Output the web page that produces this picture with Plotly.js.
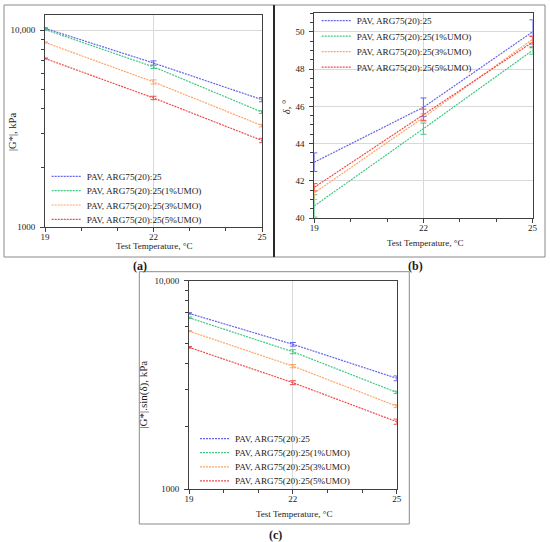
<!DOCTYPE html>
<html><head><meta charset="utf-8">
<script src="https://cdn.plot.ly/plotly-3.0.1.min.js"></script>
<style>html,body{margin:0;padding:0;background:#fff}#chart{width:550px;height:542px}</style>
</head><body><div id="chart"></div>
<script>
// ---- data ----
const temperatures = [19, 22, 25];
const seriesNames = ['PAV, ARG75(20):25', 'PAV, ARG75(20):25(1%UMO)', 'PAV, ARG75(20):25(3%UMO)', 'PAV, ARG75(20):25(5%UMO)'];

// (a) |G*|, kPa
const gStarBase = [10200, 6800, 4430];
const gStar1 = [10050, 6500, 3830];
const gStar3 = [8650, 5450, 3270];
const gStar5 = [7170, 4520, 2750];
const gStarBaseErr = [60, 170, 110];
const gStar1Err = [50, 120, 60];
const gStar3Err = [40, 130, 50];
const gStar5Err = [40, 90, 70];

// (b) delta, degrees
const deltaBase = [43.0, 45.95, 50.0];
const delta1 = [40.65, 44.8, 49.0];
const delta3 = [41.35, 45.4, 49.6];
const delta5 = [41.65, 45.55, 49.45];
const deltaBaseErr = [0.5, 0.5, 0.65];
const delta1Err = [0.6, 0.3, 0.2];
const delta3Err = [0.35, 0.2, 0.2];
const delta5Err = [0.2, 0.3, 0.3];

// (c) |G*|.sin(delta), kPa
const gSinBase = [6970, 4950, 3400];
const gSin1 = [6640, 4560, 2910];
const gSin3 = [5730, 3890, 2500];
const gSin5 = [4790, 3240, 2105];
const gSinBaseErr = [50, 100, 90];
const gSin1Err = [50, 100, 40];
const gSin3Err = [40, 70, 40];
const gSin5Err = [40, 70, 60];

// ---- tick labels ----
const xTickVals = [19, 22, 25];
const xTickText = ['19', '22', '25'];
const gTickVals = [1000, 10000];
const gTickText = ['1000', '10,000'];
const gMinorVals = [2000, 3000, 4000, 5000, 6000, 7000, 8000, 9000];
const deltaTickVals = [40, 42, 44, 46, 48, 50];
const deltaTickText = ['40', '42', '44', '46', '48', '50'];

// ---- styles ----
const seriesColors = ['#6464ee', '#40c983', '#ffa465', '#f24c4c'];
const W = 550, H = 542;
const px = v => v / W;
const py = v => 1 - v / H;
const FONT = '"Liberation Serif", "Times New Roman", serif';
const AX = '#404040';

const panels = [
  {xa: 'x', ya: 'y', series: [gStarBase, gStar1, gStar3, gStar5], errs: [gStarBaseErr, gStar1Err, gStar3Err, gStar5Err],
   legX: 51.7, legRows: [176.4, 190.7, 205.0, 219.3]},
  {xa: 'x2', ya: 'y2', series: [deltaBase, delta1, delta3, delta5], errs: [deltaBaseErr, delta1Err, delta3Err, delta5Err],
   legX: 321.7, legRows: [20.7, 36.2, 51.7, 67.2]},
  {xa: 'x3', ya: 'y3', series: [gSinBase, gSin1, gSin3, gSin5], errs: [gSinBaseErr, gSin1Err, gSin3Err, gSin5Err],
   legX: 200, legRows: [438.6, 452.7, 466.8, 480.9]}
];

const traces = [];
const layout = {
  width: W, height: H,
  margin: {l: 0, r: 0, t: 0, b: 0},
  paper_bgcolor: '#fff', plot_bgcolor: 'rgba(0,0,0,0)',
  font: {family: FONT, size: 9, color: '#1a1a1a'},
  showlegend: true,
  annotations: [], shapes: []
};

let k = 0;
panels.forEach(p => {
  p.series.forEach((vals, i) => {
    k++;
    const legName = k === 1 ? 'legend' : 'legend' + k;
    traces.push({
      type: 'scatter', mode: 'lines', x: temperatures, y: vals, name: seriesNames[i],
      xaxis: p.xa, yaxis: p.ya, legend: legName,
      line: {color: seriesColors[i], width: 1.2, dash: '2px,1px'},
      error_y: {type: 'data', array: p.errs[i], visible: true, color: seriesColors[i], thickness: 1, width: 3}
    });
    layout[legName] = {
      x: px(p.legX - 5), y: py(p.legRows[i]), xanchor: 'left', yanchor: 'middle',
      bgcolor: 'rgba(0,0,0,0)', borderwidth: 0, itemwidth: 30,
      font: {family: FONT, size: 9.2, color: '#1a1a1a'}
    };
  });
});

function xAxis(domain, anchor) {
  return {
    domain: domain, anchor: anchor, range: [19, 25], tickmode: 'array', tickvals: xTickVals, ticktext: xTickText,
    ticks: 'outside', ticklen: 4, tickwidth: 1, tickcolor: AX,
    showline: true, linecolor: AX, linewidth: 1, mirror: true,
    showgrid: true, gridcolor: '#d9d9d9', gridwidth: 1, zeroline: false,
    tickfont: {family: FONT, size: 9, color: '#1a1a1a'}, ticklabelstandoff: -3,
    minor: {tickmode: 'linear', tick0: 19, dtick: 1, ticks: 'outside', ticklen: 3, tickcolor: AX, showgrid: false},
    fixedrange: true
  };
}
function logAxis(domain, anchor, range) {
  return {
    domain: domain, anchor: anchor, type: 'log', range: range, tickmode: 'array', tickvals: gTickVals, ticktext: gTickText,
    ticks: 'outside', ticklen: 4, tickwidth: 1, tickcolor: AX,
    showline: true, linecolor: AX, linewidth: 1, mirror: true,
    showgrid: true, gridcolor: '#d9d9d9', gridwidth: 1, zeroline: false,
    tickfont: {family: FONT, size: 9, color: '#1a1a1a'}, ticklabelstandoff: 3,
    minor: {tickmode: 'array', tickvals: gMinorVals, ticks: 'outside', ticklen: 3, tickcolor: AX, showgrid: false},
    fixedrange: true
  };
}

layout.xaxis = xAxis([px(45), px(262)], 'y');
layout.yaxis = logAxis([py(227), py(14.5)], 'x', [3, 4.0787]);
layout.xaxis2 = xAxis([px(314.3), px(532.5)], 'y2');
layout.yaxis2 = {
  domain: [py(218), py(13.3)], anchor: 'x2', range: [40, 51], tickmode: 'array', tickvals: deltaTickVals, ticktext: deltaTickText,
  ticks: 'outside', ticklen: 4, tickwidth: 1, tickcolor: AX,
  showline: true, linecolor: AX, linewidth: 1, mirror: true,
  showgrid: true, gridcolor: '#d9d9d9', gridwidth: 1, zeroline: false,
  tickfont: {family: FONT, size: 9, color: '#1a1a1a'}, ticklabelstandoff: 3,
  minor: {tickmode: 'linear', tick0: 40, dtick: 0.5, ticks: 'outside', ticklen: 3, tickcolor: AX, showgrid: false},
  fixedrange: true
};
layout.xaxis3 = xAxis([px(189), px(396.7)], 'y3');
layout.yaxis3 = logAxis([py(489), py(280.7)], 'x3', [3, 4]);

// axis titles and panel captions
function ann(text, x, y, size, opts) {
  return Object.assign({text: text, xref: 'paper', yref: 'paper', x: px(x), y: py(y), xanchor: 'center', yanchor: 'middle',
    showarrow: false, font: {family: FONT, size: size, color: '#1a1a1a'}}, opts || {});
}
layout.annotations.push(
  ann('Test Temperature, °C', 153.8, 246, 9),
  ann('|G*|, kPa', 12, 132, 10.5, {textangle: -90}),
  ann('Test Temperature, °C', 425.2, 243.5, 9),
  ann('<i>δ</i>, °', 286.7, 107.5, 10.5, {textangle: -90}),
  ann('Test Temperature, °C', 293.7, 514, 9),
  ann('|G*|.sin(δ), kPa', 144, 394.7, 11, {textangle: -90}),
  ann('<b>(a)</b>', 140, 266.5, 12),
  ann('<b>(b)</b>', 415.7, 265.5, 12),
  ann('<b>(c)</b>', 275, 535, 12)
);

// panel frames
function rect(x0, y0, x1, y1, color, w) {
  return {type: 'rect', xref: 'paper', yref: 'paper', x0: px(x0), x1: px(x1), y0: py(y1), y1: py(y0),
    line: {color: color, width: w}, fillcolor: 'rgba(0,0,0,0)', layer: 'below'};
}
layout.shapes.push(
  rect(4, 5, 274, 257, '#8a8a8a', 1),
  rect(274, 5, 545, 257, '#8a8a8a', 1),
  {type: 'line', xref: 'paper', yref: 'paper', x0: px(274), x1: px(274), y0: py(257), y1: py(5), line: {color: '#2a2a2a', width: 2}},
  rect(139.3, 271.7, 409.3, 524, '#8a8a8a', 1)
);

Plotly.newPlot('chart', traces, layout, {staticPlot: true, displayModeBar: false});
</script>
</body></html>
